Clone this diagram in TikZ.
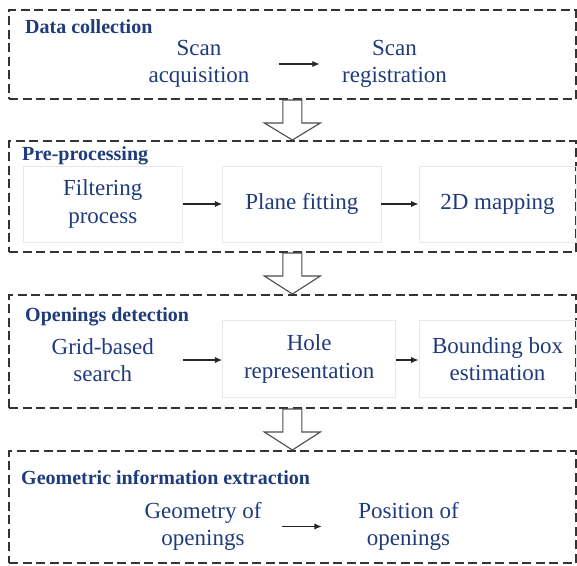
\documentclass[tikz,border=0pt]{standalone}
\usepackage{fontspec}
\setmainfont{Liberation Serif}
\usetikzlibrary{arrows.meta,calc}
\definecolor{textblue}{HTML}{1F3B7A}
\tikzset{
  stagebox/.style={draw=black!80, line width=2pt, dash pattern=on 9pt off 4.5pt, inner sep=0pt},
  stepbox/.style={draw=black!9, line width=0.8pt, inner sep=0pt, align=center, text=textblue,
    font=\fontsize{23}{27.5}\selectfont},
  plaintxt/.style={inner sep=0pt, align=center, text=textblue, font=\fontsize{23}{27.5}\selectfont},
  stagetitle/.style={inner sep=0pt, anchor=base west, text=textblue, font=\fontsize{20}{24}\selectfont\bfseries},
  flow/.style={-{Latex[length=7.5pt,width=6.5pt]}, line width=1.6pt, black!85},
  hollow/.style={draw=black!70, fill=white, line width=1.1pt, line join=miter},
}
\newcommand\hollowarr[2]{%
  \draw[hollow] ($(#1)+(-9.5,0)$) -- ($(#1)+(-9.5,23)$) -- ($(#1)+(-28,23)$) -- (#2)
    -- ($(#1)+(28,23)$) -- ($(#1)+(9.5,23)$) -- ($(#1)+(9.5,0)$) -- cycle;}
\begin{document}
\begin{tikzpicture}[x=1pt,y=-1pt]
\useasboundingbox (0,0) rectangle (577,565);
% stage frames
\node[stagebox, minimum width=566.7pt, minimum height=89pt]  (f1) at (292.35,54.5) {};
\node[stagebox, minimum width=566.7pt, minimum height=111pt] (f2) at (292.35,196.5) {};
\node[stagebox, minimum width=566.7pt, minimum height=113pt] (f3) at (292.35,351.5) {};
\node[stagebox, minimum width=566.7pt, minimum height=112pt] (f4) at (292.35,507) {};
% titles
\node[stagetitle] (t1) at (25,33.3) {Data collection};
\node[stagetitle] (t2) at (22,160.7) {Pre-processing};
\node[stagetitle] (t3) at (25,321) {Openings detection};
\node[stagetitle] (t4) at (21,484) {Geometric information extraction};
% stage 1
\node[plaintxt, minimum width=159pt] (acq) at (199,64) {Scan\\acquisition};
\node[plaintxt, minimum width=149pt] (reg) at (394.5,64) {Scan\\registration};
\draw[flow] (acq.east) -- (reg.west);
% stage 2
\node[stepbox, minimum width=159.5pt, minimum height=76pt] (filt) at (102.75,204) {Filtering\\process};
\node[stepbox, minimum width=158.3pt, minimum height=76pt] (plane) at (301.85,204) {Plane fitting};
\node[stepbox, minimum width=157pt, minimum height=76pt] (map) at (497.5,204) {2D mapping};
\draw[flow] (filt.east) -- (plane.west);
\draw[flow] (plane.east) -- (map.west);
% stage 3
\node[plaintxt, minimum width=159.5pt, minimum height=76pt] (grid) at (102.75,360) {Grid-based\\search};
\node[stepbox, minimum width=172.9pt, minimum height=76.3pt] (hole) at (309.15,359) {Hole\\representation};
\node[stepbox, minimum width=157pt, minimum height=76.3pt] (bbox) at (497.5,359) {Bounding box\\estimation};
\draw[flow] (grid.east) -- (grid.east -| hole.west);
\draw[flow] (hole.east |- grid.east) -- (grid.east -| bbox.west);
% stage 4
\node[plaintxt, minimum width=157pt] (geo) at (203,526.5) {Geometry of\\openings};
\node[plaintxt, minimum width=173pt] (pos) at (408.5,526.5) {Position of\\openings};
\draw[flow] (geo.east) -- (pos.west);
% hollow arrows between stages
\hollowarr{f1.south}{f2.north}
\hollowarr{f2.south}{f3.north}
\hollowarr{f3.south}{f4.north}
\end{tikzpicture}
\end{document}
